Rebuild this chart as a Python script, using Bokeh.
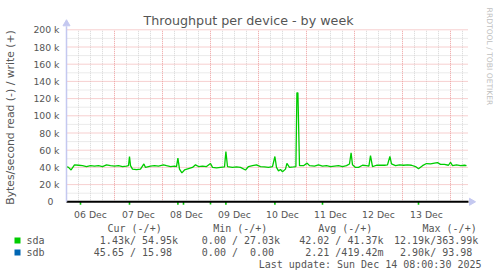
import numpy as np
from bokeh.plotting import figure
from bokeh.models import Range1d
from bokeh.core.properties import value
from bokeh.embed import file_html
from bokeh.resources import INLINE

# ---------------- data ----------------
TITLE = "Throughput per device - by week"
Y_TITLE = "Bytes/second read (-) / write (+)"
WATERMARK = "RRDTOOL / TOBI OETIKER"
LAST_UPDATE = "Last update: Sun Dec 14 08:00:30 2025"

# hours since 06 Dec 00:00
write_hours = [0, 1, 2.3, 4, 6, 8, 10, 12, 14, 16, 18, 20, 22, 24, 26, 28, 30, 31, 31.5, 32,
               33, 35, 37, 38.7, 39.5, 42, 44, 46, 48.5, 50, 52, 54, 55, 55.7, 56.5, 57.7, 59,
               61, 63, 64.5, 66, 68, 70, 72, 73, 75, 77, 79, 79.7, 80.5, 83, 85, 87, 89.5, 91,
               93, 95, 97, 99, 101, 103, 104.2, 105, 106, 107, 108, 109.5, 110.2, 111.5, 113.5,
               114.7, 115.2, 115.7, 116.5, 118.5, 120.3, 121.5, 124, 126, 128, 130, 132, 134,
               136, 138, 140, 141.5, 142.3, 143, 144.5, 146, 148, 150, 151.2, 152, 153, 155,
               157, 159, 160.5, 161.7, 162.5, 164.5, 166.5, 168.5, 170.5, 172.5, 174.5, 176,
               178, 180, 182, 184, 185.5, 187, 189, 191, 192, 193, 195, 197, 199, 200]
# sda write, kB/s
sda_write_k = [41, 40, 37, 43, 42.5, 42, 41, 42, 41.5, 42, 41, 43, 42, 41.5, 42, 41, 41.5, 42, 52.7, 42,
               38, 37.5, 38, 44, 40, 41.5, 42, 41.5, 43, 42, 41, 41.5, 41, 50.7, 38, 33.7, 37,
               38.5, 40, 43, 41, 41.5, 41, 44.6, 40, 39.5, 40, 40.5, 58.5, 41, 40, 40.5, 40, 37, 41,
               42, 43, 41, 40.5, 40, 41, 52.7, 40, 36, 37.5, 35, 38, 44.6, 40, 40.5,
               41, 126.7, 126.7, 42, 42, 45, 42, 41.5, 43, 41.5, 42, 41, 41.5,
               42, 41, 42, 44, 57, 43, 40, 40, 42.5, 42, 41.5, 53.8, 41, 42.5,
               42.5, 42.5, 43, 52.7, 44, 42, 43, 42.5, 43, 42.5, 41, 38.4,
               42, 44.5, 44, 45, 45.6, 43.5, 43.5, 42.5, 46, 42, 43, 42, 42.5, 42]
# sda read bursts (drawn negative), kB/s
read_hours = [7, 31.5, 55.7, 58.5, 72, 79.7, 104.2, 128, 176]
sda_read_k = [5.0, 8.0, 6.0, 4.0, 3.0, 12.19, 5.0, 4.0, 6.0]

day_labels = ["06 Dec", "07 Dec", "08 Dec", "09 Dec", "10 Dec", "11 Dec", "12 Dec", "13 Dec"]
y_ticks = [0, 20000, 40000, 60000, 80000, 100000, 120000, 140000, 160000, 180000, 200000]
y_tick_labels = ["0", "20 k", "40 k", "60 k", "80 k", "100 k", "120 k", "140 k", "160 k", "180 k", "200 k"]

series_names = ["sda", "sdb"]
series_colors = ["#00cc00", "#0066b3"]
legend_headers = ["Cur (-/+)", "Min (-/+)", "Avg (-/+)", "Max (-/+)"]
cur_vals = ["  1.43k/ 54.95k", " 45.65 / 15.98 "]
min_vals = ["  0.00 / 27.03k", "  0.00 /  0.00 "]
avg_vals = [" 42.02 / 41.37k", "  2.21 /419.42m"]
max_vals = [" 12.19k/363.99k", "  2.90k/ 93.98 "]

# ---------------- layout ----------------
W, H = 497, 276
X0_PX = 66.0            # pixel of hour 0
PX_PER_HOUR = 2.0
Y0_PX = 201.3           # pixel of value 0
PX_PER_UNIT = 172.0 / 200000.0
Y_MAX = 200000
T_END = 200.0           # last data hour
GRID_END_T = 201.0
READ_CLIP = 3500

TEXT = "#555555"
FONT = value("DejaVu Sans")
MONO = value("DejaVu Sans Mono")
AXIS_COL = "#c4c8f0"

p = figure(width=W, height=H,
           x_range=Range1d(-X0_PX / PX_PER_HOUR, (W - X0_PX) / PX_PER_HOUR),
           y_range=Range1d(-(H - Y0_PX) / PX_PER_UNIT, Y0_PX / PX_PER_UNIT),
           output_backend="svg", toolbar_location=None,
           x_axis_location=None, y_axis_location=None, min_border=0,
           background_fill_color="white", border_fill_color="white",
           outline_line_color=None)
p.grid.visible = False
p.extra_x_ranges = {"px": Range1d(0, W)}
p.extra_y_ranges = {"px": Range1d(H, 0)}

# grid
minor_h = [v for v in range(10000, Y_MAX + 1, 10000) if v % 20000]
major_h = list(range(20000, Y_MAX + 1, 20000))
minor_v = [h for h in range(6, int(T_END), 6) if h % 24]
major_v = list(range(24, int(T_END), 24))
p.segment(x0=0, x1=GRID_END_T, y0=minor_h, y1=minor_h, line_color="#d6d6d6", line_dash="1 1", line_width=1)
p.segment(x0=minor_v, x1=minor_v, y0=0, y1=Y_MAX, line_color="#d6d6d6", line_dash="1 1", line_width=1)
p.segment(x0=0, x1=GRID_END_T, y0=major_h, y1=major_h, line_color="#ee9f9f", line_dash="1 1", line_width=1)
p.segment(x0=major_v, x1=major_v, y0=0, y1=Y_MAX, line_color="#ee9f9f", line_dash="1 1", line_width=1)

# data
write_vals = np.array(sda_write_k) * 1000
read_vals = np.array(sda_read_k) * 1000
p.vbar(x=read_hours, bottom=-np.minimum(read_vals, READ_CLIP), top=0, width=0.8,
       fill_color=series_colors[0], line_color=None)
p.line(write_hours, write_vals, line_color=series_colors[0], line_width=1.3)

# zero line and axes
p.segment(x0=[0], x1=[GRID_END_T], y0=[0], y1=[0], line_color="black", line_width=2)
p.segment(x0=[0], x1=[0], y0=[0], y1=[Y_MAX * 1.02], line_color=AXIS_COL, line_width=1.5)
p.scatter(x=[0], y=[Y_MAX * 1.035], marker="triangle", size=7, fill_color=AXIS_COL, line_color=AXIS_COL)
p.scatter(x=[GRID_END_T + 1.5], y=[0], marker="triangle", angle=-np.pi / 2, size=7,
          fill_color=AXIS_COL, line_color=AXIS_COL)

# title, axis labels
p.text(x=[248], y=[20], x_range_name="px", y_range_name="px", text=[TITLE],
       text_align="center", text_baseline="middle", text_font=FONT,
       text_font_size="12.7px", text_color=TEXT)
p.text(x=[9.5], y=[117], x_range_name="px", y_range_name="px", text=[Y_TITLE], angle=np.pi / 2,
       text_align="center", text_baseline="middle", text_font=FONT,
       text_font_size="10.8px", text_color=TEXT)
p.text(x=[488.5], y=[56], x_range_name="px", y_range_name="px", text=[WATERMARK], angle=-np.pi / 2,
       text_align="center", text_baseline="middle", text_font=FONT,
       text_font_size="7.6px", text_color="#c0c0c0")

ytick_offsets = [-6 if v == 0 else 0 for v in y_ticks]
p.text(x=[59] * len(y_ticks), y=y_ticks, x_range_name="px", text=y_tick_labels,
       x_offset=ytick_offsets, text_align="right", text_baseline="middle",
       text_font=FONT, text_font_size="9.3px", text_color=TEXT)
day_centers = [12 + 24 * i for i in range(len(day_labels))]
p.text(x=day_centers, y=[214] * len(day_labels), y_range_name="px", text=day_labels,
       text_align="center", text_baseline="middle", text_font=FONT,
       text_font_size="9.3px", text_color=TEXT)

# legend
CW = 6.02
header_x = [107, 212.7, 317.7, 422]
col_x = [87.3, 189.3, 292.7, 387.5]
row_y = [240, 252]
p.text(x=header_x, y=[228] * 4, x_range_name="px", y_range_name="px", text=legend_headers,
       text_align="left", text_baseline="middle", text_font=MONO, text_font_size="10px", text_color=TEXT)
p.rect(x=[17] * 2, y=row_y, width=6, height=6, x_range_name="px", y_range_name="px",
       fill_color=series_colors, line_color=None)
p.text(x=[26] * 2, y=row_y, x_range_name="px", y_range_name="px", text=series_names,
       text_align="left", text_baseline="middle", text_font=MONO, text_font_size="10px", text_color=TEXT)

xs, ys, ts = [], [], []
for cx, col in zip(col_x, [cur_vals, min_vals, avg_vals, max_vals]):
    for ry, s in zip(row_y, col):
        lead = len(s) - len(s.lstrip(" "))
        body = s.strip(" ").replace("  ", " \u00a0")
        xs.append(cx + lead * CW)
        ys.append(ry)
        ts.append(body)
p.text(x=xs, y=ys, x_range_name="px", y_range_name="px", text=ts,
       text_align="left", text_baseline="middle", text_font=MONO, text_font_size="10px", text_color=TEXT)
p.text(x=[481], y=[264], x_range_name="px", y_range_name="px", text=[LAST_UPDATE],
       text_align="right", text_baseline="middle", text_font=MONO, text_font_size="10px", text_color=TEXT)

open("out.html", "w").write(file_html(p, INLINE))
